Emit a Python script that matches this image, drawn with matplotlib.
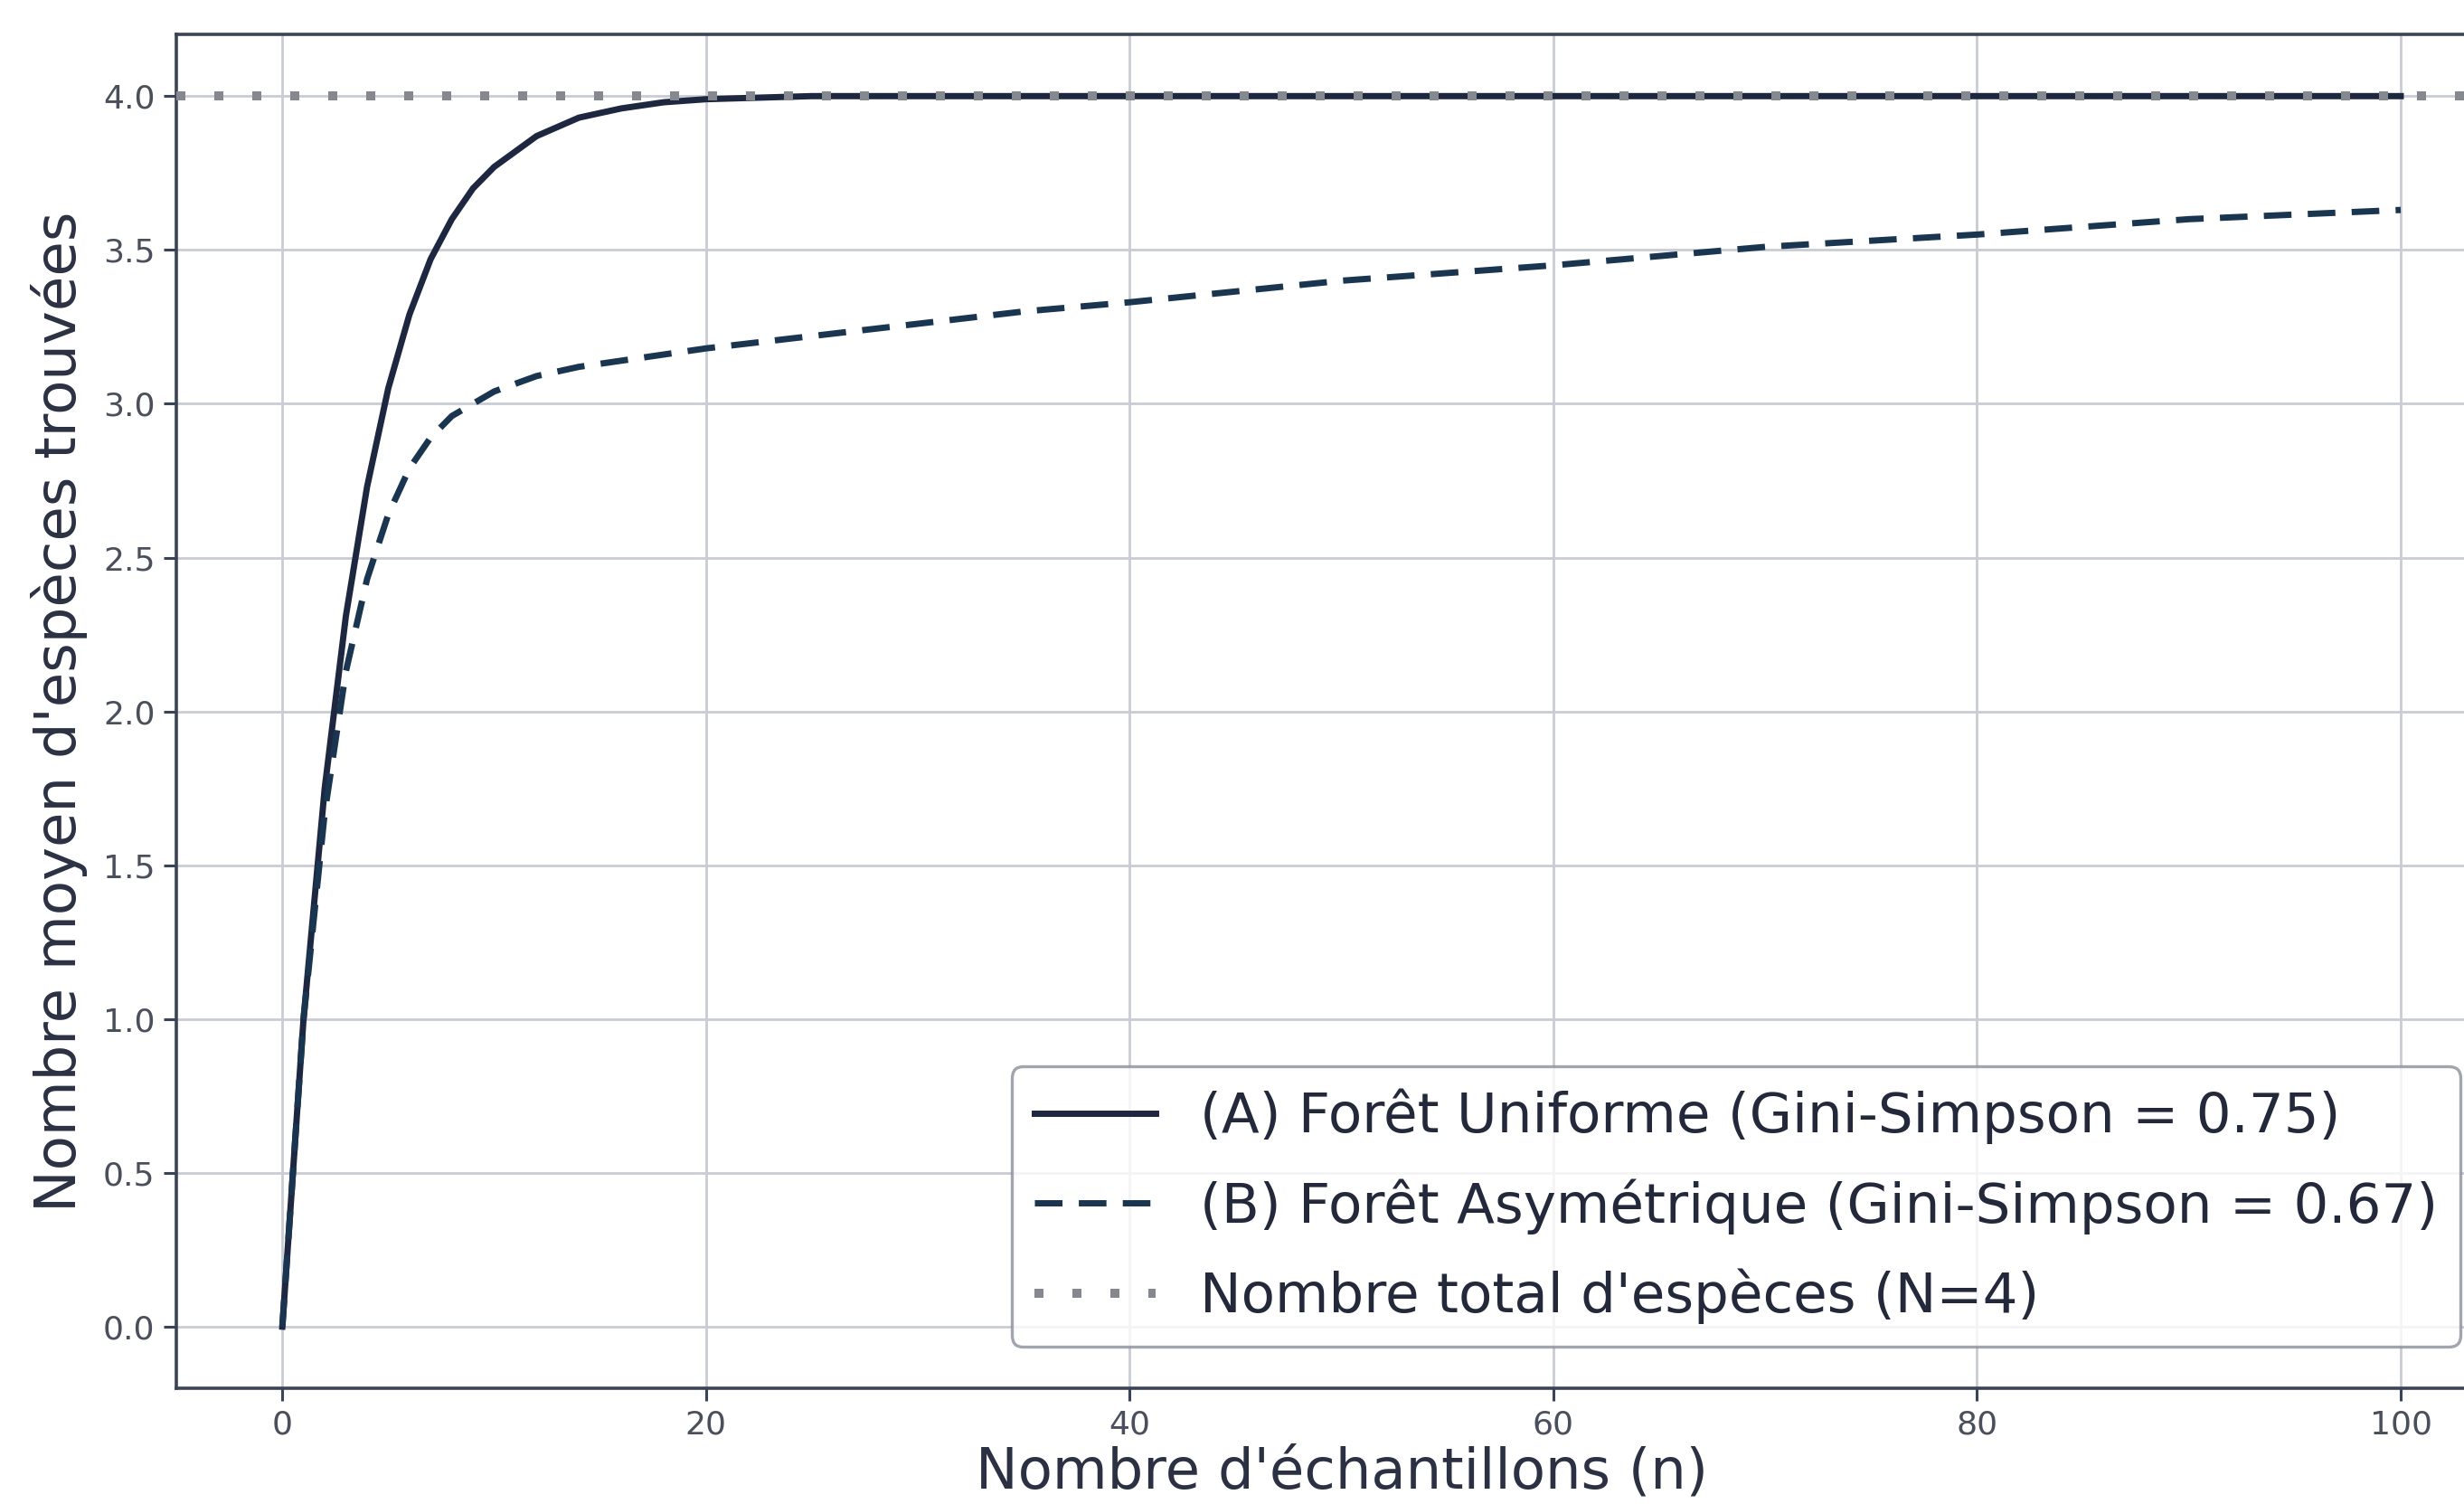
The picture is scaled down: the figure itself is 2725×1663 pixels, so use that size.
import matplotlib
matplotlib.use("Agg")
import matplotlib.pyplot as plt

# nombre d'echantillons (n) et valeurs moyennes
n = [0, 1, 2, 3, 4, 5, 6, 7, 8, 9, 10, 12, 14, 16, 18, 20, 25, 30, 35, 40, 50, 60, 70, 80, 90, 100]
foret_a = [0.0, 1.0, 1.75, 2.31, 2.73, 3.05, 3.29, 3.47, 3.60, 3.70, 3.77, 3.87, 3.93, 3.96, 3.98, 3.99,
           4.0, 4.0, 4.0, 4.0, 4.0, 4.0, 4.0, 4.0, 4.0, 4.0]
foret_b = [0.0, 1.0, 1.67, 2.13, 2.43, 2.64, 2.79, 2.89, 2.96, 3.00, 3.04, 3.09, 3.12, 3.14, 3.16, 3.18,
           3.22, 3.26, 3.30, 3.33, 3.40, 3.45, 3.51, 3.55, 3.60, 3.63]
n_total = 4

labels = ["(A) Forêt Uniforme (Gini-Simpson = 0.75)",
          "(B) Forêt Asymétrique (Gini-Simpson = 0.67)",
          "Nombre total d'espèces (N=4)"]

fig = plt.figure(figsize=(13.625, 8.315), dpi=200)
ax = fig.add_axes([0.0716, 0.077, 0.9457, 0.900])

ax.plot(n, foret_a, color="#1e2740", lw=2.5, label=labels[0], zorder=3)
ax.plot(n, foret_b, color="#1a3550", lw=2.5, dashes=(4.4, 2.6), label=labels[1], zorder=3)
ax.axhline(n_total, color="#85888f", lw=3.6, linestyle=(0, (1, 3.2)), label=labels[2], zorder=4)

ax.set_xlim(-5, 105)
ax.set_ylim(-0.2, 4.2)
ax.set_xticks([0, 20, 40, 60, 80, 100])
ax.set_yticks([0.0, 0.5, 1.0, 1.5, 2.0, 2.5, 3.0, 3.5, 4.0])
ax.set_yticklabels(["0.0", "0.5", "1.0", "1.5", "2.0", "2.5", "3.0", "3.5", "4.0"])
ax.grid(True, color="#c9ccd3", lw=1.0)
ax.set_axisbelow(True)
for s in ax.spines.values():
    s.set_color("#3b4356")
    s.set_linewidth(1.3)
ax.tick_params(labelsize=13, labelcolor="#4a4f5c", color="#3b4356", length=5, width=1.1)

ax.set_xlabel("Nombre d'échantillons (n)", fontsize=22.5, color="#2b3142", labelpad=2)
ax.set_ylabel("Nombre moyen d'espèces trouvées", fontsize=22.5, color="#2b3142", labelpad=6)

leg = ax.legend(loc="lower right", bbox_to_anchor=(0.98, 0.031), borderaxespad=0,
                fontsize=22, frameon=True, fancybox=True, handlelength=2.2, labelspacing=0.62)
leg.get_frame().set_edgecolor("#8a8f9a")
leg.get_frame().set_linewidth(1.2)
for t in leg.get_texts():
    t.set_color("#23293a")

fig.savefig("out.png", dpi=200)
